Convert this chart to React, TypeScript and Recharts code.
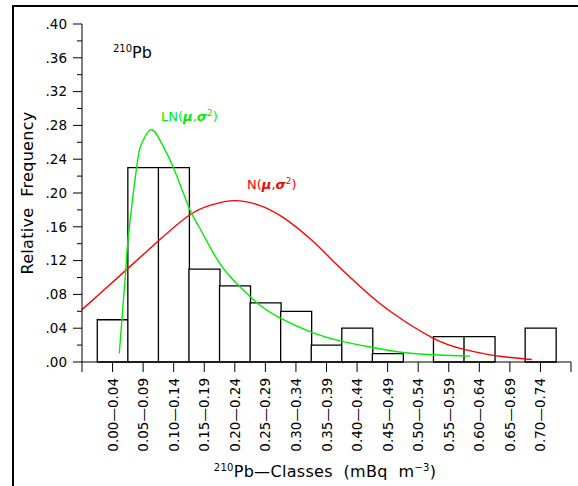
import React from 'react';
import { ComposedChart, Bar, Line, XAxis, YAxis } from 'recharts';

// 210Pb classes (mBq m-3) and relative frequency per class
const classLabels = [
  '0.00—0.04', '0.05—0.09', '0.10—0.14', '0.15—0.19', '0.20—0.24',
  '0.25—0.29', '0.30—0.34', '0.35—0.39', '0.40—0.44', '0.45—0.49',
  '0.50—0.54', '0.55—0.59', '0.60—0.64', '0.65—0.69', '0.70—0.74',
];
const classLower = [0.0, 0.05, 0.1, 0.15, 0.2, 0.25, 0.3, 0.35, 0.4, 0.45, 0.5, 0.55, 0.6, 0.65, 0.7];
const relFreq = [0.05, 0.23, 0.23, 0.11, 0.09, 0.07, 0.06, 0.02, 0.04, 0.01, 0.0, 0.03, 0.03, 0.0, 0.04];

// fitted lognormal LN(mu, sigma^2)
const lnX = [0.036, 0.0465, 0.051, 0.0645, 0.073, 0.088, 0.105, 0.124, 0.151, 0.168, 0.2, 0.232, 0.263, 0.302, 0.351, 0.397, 0.452, 0.517, 0.61];
const lnY = [0.01, 0.108, 0.15, 0.231, 0.259, 0.275, 0.259, 0.231, 0.181, 0.158, 0.117, 0.09, 0.069, 0.051, 0.035, 0.025, 0.017, 0.01, 0.007];

// fitted normal N(mu, sigma^2)
const nX = [-0.025, 0.009, 0.0475, 0.101, 0.151, 0.187, 0.225, 0.263, 0.302, 0.351, 0.392, 0.435, 0.479, 0.55, 0.6, 0.651, 0.711];
const nY = [0.062, 0.084, 0.109, 0.144, 0.174, 0.186, 0.191, 0.186, 0.172, 0.144, 0.115, 0.086, 0.06, 0.028, 0.015, 0.0075, 0.003];

const yTicks = [0, 0.02, 0.04, 0.06, 0.08, 0.1, 0.12, 0.14, 0.16, 0.18, 0.2, 0.22, 0.24, 0.26, 0.28, 0.3, 0.32, 0.34, 0.36, 0.38, 0.4];

const font = '"DejaVu Sans", sans-serif';
const half = 0.025;
const W = 578;
const H = 486;
const margin = { top: 24, right: 7, bottom: 0, left: 0 };

const histData = classLower.map((lo, i) => ({ c: Number((lo + half).toFixed(3)), f: relFreq[i] }));
const lnData = lnX.map((c, i) => ({ c, f: lnY[i] }));
const nData = nX.map((c, i) => ({ c, f: nY[i] }));
const xMin = Number((classLower[0] - half).toFixed(3));
const xMax = Number((classLower[classLower.length - 1] + 3 * half).toFixed(3));
const xTicks = [xMin, ...histData.map((d) => d.c), xMax];

const YTick = (props: any) => {
  const { x, y, payload } = props;
  const v = payload.value;
  const major = Math.round(v * 100) % 4 === 0;
  return (
    <g>
      <line x1={x} x2={x - (major ? 9 : 5)} y1={y} y2={y} stroke="#000" />
      {major && (
        <text x={x - 15} y={y} dy="0.36em" textAnchor="end" fontSize={13.5} fontFamily={font} fill="#000">
          {v.toFixed(2).slice(1)}
        </text>
      )}
    </g>
  );
};

const XTick = (props: any) => {
  const { x, y, payload } = props;
  const i = Math.round((payload.value - half) / 0.05);
  const label = i >= 0 && i < classLabels.length ? classLabels[i] : null;
  return (
    <g>
      <line x1={x} x2={x} y1={y} y2={y + 10} stroke="#000" />
      {label && (
        <text
          transform={`translate(${x + 5},${y + 16}) rotate(-90)`}
          textAnchor="end"
          fontSize={13.5}
          fontFamily={font}
          fill="#000"
        >
          {label}
        </text>
      )}
    </g>
  );
};

const greek = { fontStyle: 'italic' as const, fontWeight: 'bold' as const };

export default function App() {
  return (
    <div style={{ position: 'absolute', left: 0, top: 0, width: W, height: H, overflow: 'hidden', background: '#fff' }}>
      <div
        style={{
          position: 'absolute',
          left: 12,
          top: 5,
          width: 700,
          height: 700,
          borderLeft: '2px solid #000',
          borderTop: '2px solid #000',
        }}
      />
      <div style={{ position: 'absolute', left: 0, top: 0 }}>
        <ComposedChart width={W} height={H} data={histData} margin={margin} barCategoryGap={0} barGap={0}>
          <XAxis
            xAxisId="b"
            dataKey="c"
            type="number"
            domain={[xMin, xMax]}
            ticks={xTicks}
            interval={0}
            height={124}
            tick={<XTick />}
            tickLine={false}
            tickSize={0}
            tickMargin={0}
            axisLine={{ stroke: '#000' }}
          />
          <XAxis
            xAxisId="t"
            orientation="top"
            dataKey="c"
            type="number"
            domain={[xMin, xMax]}
            ticks={xTicks}
            interval={0}
            height={0}
            tick={false}
            tickSize={10}
            tickLine={{ stroke: '#000' }}
            axisLine={{ stroke: '#000' }}
          />
          <YAxis
            yAxisId="l"
            type="number"
            domain={[0, 0.4]}
            ticks={yTicks}
            interval={0}
            width={82}
            tick={<YTick />}
            tickLine={false}
            tickSize={0}
            tickMargin={0}
            axisLine={{ stroke: '#000' }}
          />
          <YAxis
            yAxisId="r"
            orientation="right"
            type="number"
            domain={[0, 0.4]}
            ticks={yTicks}
            interval={0}
            width={0}
            tick={false}
            tickSize={5}
            tickLine={{ stroke: '#000' }}
            axisLine={{ stroke: '#000' }}
          />
          <Bar
            xAxisId="b"
            yAxisId="l"
            dataKey="f"
            fill="#fff"
            stroke="#000"
            strokeWidth={1.3}
            isAnimationActive={false}
          />
          <Line
            xAxisId="t"
            yAxisId="l"
            data={nData}
            dataKey="f"
            type="natural"
            stroke="#ff0000"
            strokeWidth={1.4}
            dot={false}
            isAnimationActive={false}
          />
          <Line
            xAxisId="t"
            yAxisId="l"
            data={lnData}
            dataKey="f"
            type="natural"
            stroke="#00ee00"
            strokeWidth={1.4}
            dot={false}
            isAnimationActive={false}
          />
        </ComposedChart>
      </div>
      <svg width={W} height={H} style={{ position: 'absolute', left: 0, top: 0, pointerEvents: 'none' }} fontFamily={font}>
        <text x={113} y={58} fontSize={16} fill="#000">
          <tspan fontSize={10} dy={-6}>210</tspan>
          <tspan dy={6}>Pb</tspan>
        </text>
        <text x={161} y={121} fontSize={13} fill="#00ee00">
          LN(<tspan {...greek}>μ</tspan>,<tspan {...greek}>σ</tspan>
          <tspan fontSize={9} dy={-5}>2</tspan>
          <tspan dy={5}>)</tspan>
        </text>
        <text x={247} y={189} fontSize={13} fill="#ff0000">
          N(<tspan {...greek}>μ</tspan>,<tspan {...greek}>σ</tspan>
          <tspan fontSize={9} dy={-5}>2</tspan>
          <tspan dy={5}>)</tspan>
        </text>
        <text
          transform="translate(33,193) rotate(-90)"
          textAnchor="middle"
          fontSize={16}
          letterSpacing={0.3}
          fill="#000"
          style={{ whiteSpace: 'pre' }}
        >
          {'Relative  Frequency'}
        </text>
        <text x={325} y={477} textAnchor="middle" fontSize={16} letterSpacing={0.3} fill="#000" style={{ whiteSpace: 'pre' }}>
          <tspan fontSize={10} dy={-6}>210</tspan>
          <tspan dy={6}>{'Pb—Classes  (mBq  m'}</tspan>
          <tspan fontSize={10} dy={-6}>−3</tspan>
          <tspan dy={6}>)</tspan>
        </text>
      </svg>
    </div>
  );
}
